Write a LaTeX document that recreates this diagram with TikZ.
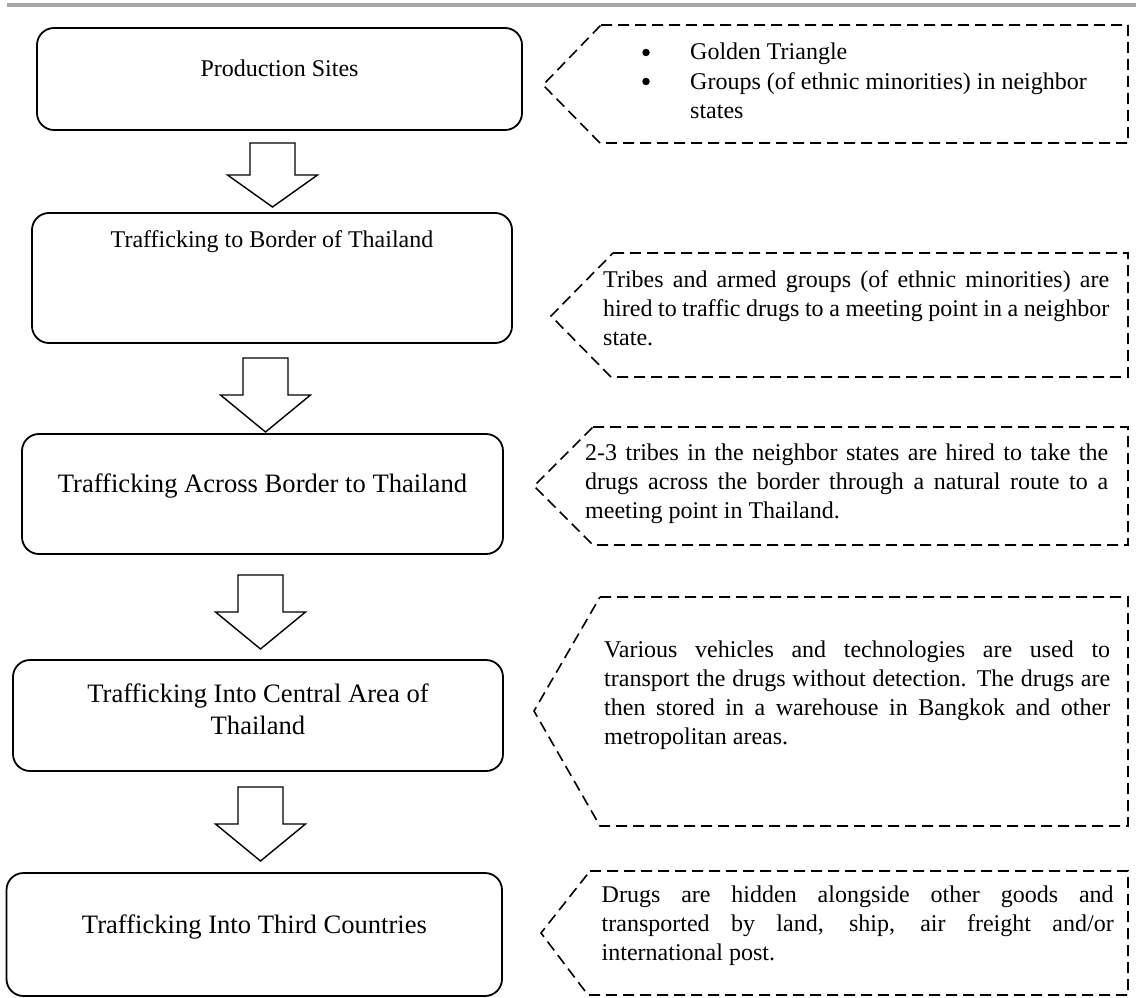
\documentclass[tikz,border=0pt]{standalone}
\usepackage{fontspec}
\setmainfont{Liberation Serif}
\usetikzlibrary{calc}
\newcommand\fsmall{\fontsize{24}{29}\selectfont}
\newcommand\flarge{\fontsize{26.6}{32}\selectfont}
\newcommand\jtext[2]{\parbox[t]{#1}{\fsmall\tolerance=10000\hbadness=10000\emergencystretch=20pt #2}}
\begin{document}
\begin{tikzpicture}[x=1pt,y=-1pt,
  box/.style={draw, line width=1.8pt, rounded corners=17pt, inner sep=0pt},
  blockarrow/.style={draw, line width=1.4pt, fill=white, line join=miter},
  callout/.style={draw, line width=1.6pt, dash pattern=on 11pt off 6pt},
  bul/.style={circle, fill=black, inner sep=0pt, minimum size=7.5pt},
  lbl/.style={inner sep=0pt}]
\useasboundingbox (0,0) rectangle (1136,998);
% top bar
\fill[black!35] (7,3) rectangle (1136,7.3);

% boxes
\node[box, minimum width=485pt, minimum height=102pt] (b1) at (279.5,79) {};
\node[box, minimum width=480pt, minimum height=130pt] (b2) at (272,278) {};
\node[box, minimum width=481pt, minimum height=120pt] (b3) at (262.5,494) {};
\node[box, minimum width=490pt, minimum height=111pt] (b4) at (258,715.5) {};
\node[box, minimum width=495.5pt, minimum height=123pt] (b5) at (254.25,934.5) {};

% box texts
\node[lbl, anchor=base] (t1) at (279.5,77) {\fsmall Production Sites};
\node[lbl, anchor=base] (t2) at (272,247) {\fsmall Trafficking to Border of Thailand};
\node[lbl, anchor=base] (t3) at (262.5,492) {\flarge Trafficking Across Border to Thailand};
\node[lbl, anchor=base] (t4) at (258,702) {\parbox[t]{440pt}{\centering\flarge Trafficking Into Central Area of\\Thailand}};
\node[lbl, anchor=base] (t5) at (254.5,933) {\flarge Trafficking Into Third Countries};

% block arrows
\coordinate (a1) at (272.5,143);
\coordinate (a2) at (265.5,358);
\coordinate (a3) at (260.5,575);
\coordinate (a4) at (260.5,787);
\draw[blockarrow] ($(a1)+(-22.5,0)$) -- ++(45,0) -- ++(0,32) -- ++(22.5,0) -- ++(-45,32) -- ++(-45,-32) -- ++(22.5,0) -- cycle;
\draw[blockarrow] ($(a2)+(-22.5,0)$) -- ++(45,0) -- ++(0,37) -- ++(22.5,0) -- ++(-45,37) -- ++(-45,-37) -- ++(22.5,0) -- cycle;
\draw[blockarrow] ($(a3)+(-22.5,0)$) -- ++(45,0) -- ++(0,37) -- ++(22.5,0) -- ++(-45,37) -- ++(-45,-37) -- ++(22.5,0) -- cycle;
\draw[blockarrow] ($(a4)+(-22.5,0)$) -- ++(45,0) -- ++(0,37) -- ++(22.5,0) -- ++(-45,37) -- ++(-45,-37) -- ++(22.5,0) -- cycle;

% callouts
\draw[callout] (601,25) -- (1128,25) -- (1128,143) -- (600,143) -- (543,85) -- cycle;
\draw[callout] (613,253) -- (1128,253) -- (1128,377) -- (611,377) -- (551,316) -- cycle;
\draw[callout] (593,427) -- (1128,427) -- (1128,545) -- (593,545) -- (534,486) -- cycle;
\draw[callout] (600,597) -- (1128,597) -- (1128,826) -- (600,826) -- (534,711) -- cycle;
\draw[callout] (590,871) -- (1128,871) -- (1128,995) -- (588,995) -- (541,933) -- cycle;

% callout 1 texts
\node[bul] (c1b1) at (646,52.5) {};
\node[bul] (c1b2) at (646,81.5) {};
\node[lbl, anchor=base west] (c1t1) at (690,60) {\fsmall Golden Triangle};
\node[lbl, anchor=base west] (c1t2) at (690,89) {\fsmall Groups (of ethnic minorities) in neighbor};
\node[lbl, anchor=base west] (c1t3) at (690,118) {\fsmall states};

% callout texts
\node[lbl, anchor=base west] (c2) at (603,287) {\jtext{506pt}{Tribes and armed groups (of ethnic minorities) are\linebreak hired to traffic drugs to a meeting point in a neighbor\linebreak state.}};
\node[lbl, anchor=base west] (c3) at (585,460) {\jtext{523pt}{2-3 tribes in the neighbor states are hired to take the\linebreak drugs across the border through a natural route to a\linebreak meeting point in Thailand.}};
\node[lbl, anchor=base west] (c4) at (604,657) {\jtext{506pt}{Various vehicles and technologies are used to\linebreak transport the drugs without detection. The drugs are\linebreak then stored in a warehouse in Bangkok and other\linebreak metropolitan areas.}};
\node[lbl, anchor=base west] (c5) at (601.5,902) {\jtext{512pt}{Drugs are hidden alongside other goods and\linebreak transported by land, ship, air freight and/or\linebreak international post.}};
\end{tikzpicture}
\end{document}
